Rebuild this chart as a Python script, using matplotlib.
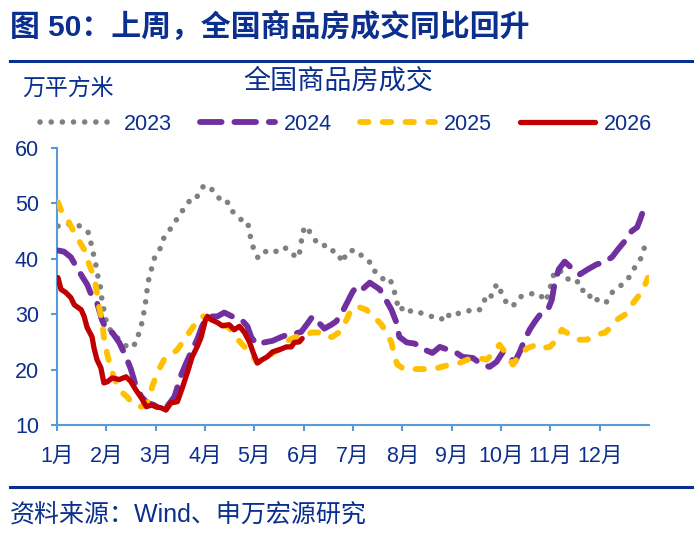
import matplotlib
matplotlib.use("Agg")
import matplotlib.pyplot as plt
from matplotlib.lines import Line2D

# ---------------- data (x = months since 1 Jan, y = 万平方米) ----------------
month_labels = ["1月", "2月", "3月", "4月", "5月", "6月", "7月", "8月", "9月", "10月", "11月", "12月"]
series_names = ["2023", "2024", "2025", "2026"]

x2023 = [0.02, 0.18, 0.39, 0.51, 0.63, 0.69, 0.79, 0.83, 0.89, 0.91, 0.95, 1.02, 1.16, 1.32, 1.46, 1.62,
         1.66, 1.73, 1.77, 1.81, 1.83, 1.87, 1.93, 1.99, 2.11, 2.17, 2.29, 2.38, 2.48, 2.60, 2.72, 2.82,
         2.94, 3.03, 3.11, 3.23, 3.31, 3.43, 3.51, 3.63, 3.74, 3.86, 3.90, 3.94, 4.02, 4.08, 4.20, 4.35,
         4.45, 4.59, 4.73, 4.85, 4.91, 4.95, 4.97, 5.06, 5.16, 5.30, 5.40, 5.54, 5.62, 5.69, 5.79, 5.87,
         5.99, 6.09, 6.23, 6.38, 6.46, 6.60, 6.74, 6.82, 6.88, 6.92, 7.09, 7.19, 7.33, 7.45, 7.59, 7.74,
         7.86, 7.98, 8.10, 8.28, 8.43, 8.57, 8.67, 8.77, 8.83, 8.93, 9.02, 9.12, 9.24, 9.36, 9.52, 9.64,
         9.77, 9.91, 9.97, 10.03, 10.09, 10.25, 10.38, 10.54, 10.62, 10.76, 10.84, 11.01, 11.13, 11.25,
         11.37, 11.51, 11.59, 11.70, 11.80, 11.88, 11.94]
y2023 = [45.9, 46.2, 46.4, 45.5, 44.8, 42.8, 38.8, 36.8, 34.5, 32.6, 30.8, 27.8, 26.3, 24.9, 23.8, 24.9,
         26.7, 28.7, 30.8, 33.0, 34.8, 36.8, 38.6, 40.6, 42.1, 43.9, 45.3, 46.4, 48.0, 49.3, 50.9, 50.9,
         52.9, 53.3, 52.9, 51.3, 50.8, 50.8, 48.9, 48.0, 47.0, 46.8, 45.0, 43.0, 41.0, 40.1, 41.2, 41.7,
         41.3, 42.1, 41.5, 40.1, 40.8, 42.8, 44.8, 45.9, 44.2, 42.6, 42.6, 41.3, 41.5, 41.0, 39.3, 41.2,
         41.5, 41.5, 39.9, 39.2, 37.4, 36.4, 36.6, 34.6, 32.8, 30.7, 31.4, 30.3, 30.3, 30.1, 29.6, 29.6,
         28.7, 30.3, 30.1, 30.3, 31.0, 30.8, 32.6, 32.3, 34.3, 35.5, 33.6, 31.9, 31.4, 33.0, 33.6, 33.7,
         33.7, 32.3, 33.9, 35.9, 37.9, 37.7, 36.1, 36.1, 34.3, 34.3, 32.3, 32.8, 32.1, 33.9,
         34.8, 35.7, 36.6, 38.3, 39.3, 41.2, 43.1]

x2024 = [0.02, 0.14, 0.28, 0.39, 0.51, 0.61, 0.71, 0.81, 0.91, 1.02, 1.12, 1.26, 1.40, 1.50, 1.58, 1.71,
         1.83, 1.97, 2.11, 2.21, 2.38, 2.52, 2.62, 2.74, 2.84, 2.94, 3.03, 3.09, 3.25, 3.39, 3.55, 3.74,
         3.86, 3.94, 4.06, 4.20, 4.37, 4.55, 4.67, 4.81, 4.95, 5.06, 5.18, 5.28, 5.42, 5.56, 5.66, 5.79,
         5.91, 5.99, 6.07, 6.19, 6.34, 6.54, 6.64, 6.78, 6.88, 6.94, 7.09, 7.25, 7.45, 7.61, 7.76, 7.92,
         8.10, 8.22, 8.43, 8.61, 8.77, 8.91, 9.04, 9.14, 9.28, 9.38, 9.48, 9.58, 9.69, 9.79, 9.95, 10.03,
         10.09, 10.17, 10.29, 10.46, 10.60, 10.76, 10.94, 11.07, 11.25, 11.37, 11.51, 11.65, 11.76, 11.82, 11.88]
y2024 = [41.5, 41.3, 40.3, 38.6, 36.8, 35.4, 33.2, 32.1, 29.0, 26.8, 26.7, 24.9, 22.3, 20.0, 17.6, 15.1,
         14.0, 13.6, 12.7, 13.1, 15.1, 19.1, 21.2, 23.6, 25.4, 27.8, 29.4, 29.6, 29.6, 30.3, 29.6, 29.0,
         27.8, 25.8, 24.5, 24.9, 25.2, 25.9, 26.3, 26.5, 26.8, 28.1, 29.6, 28.7, 27.4, 28.1, 28.7, 30.5,
         32.6, 34.0, 35.0, 34.5, 35.7, 34.5, 33.0, 30.8, 28.5, 25.9, 24.9, 24.7, 23.6, 23.0, 24.1, 23.6,
         23.0, 22.3, 22.1, 20.9, 20.5, 21.4, 23.2, 22.3, 21.4, 23.2, 25.4, 27.2, 28.7, 29.9, 30.8, 32.6,
         35.7, 38.1, 39.5, 38.1, 37.2, 38.1, 39.0, 39.3, 40.3, 41.7, 43.2, 45.0, 45.7, 47.1, 48.6]

x2025 = [0.02, 0.10, 0.24, 0.35, 0.45, 0.55, 0.65, 0.75, 0.81, 0.85, 0.91, 0.95, 1.02, 1.10, 1.20, 1.30,
         1.42, 1.56, 1.71, 1.83, 1.93, 2.03, 2.17, 2.31, 2.44, 2.58, 2.68, 2.82, 2.92, 3.03, 3.19, 3.35,
         3.49, 3.63, 3.76, 3.90, 4.06, 4.24, 4.41, 4.57, 4.71, 4.85, 4.97, 5.16, 5.32, 5.46, 5.58, 5.73,
         5.87, 5.97, 6.09, 6.27, 6.44, 6.58, 6.70, 6.78, 6.84, 6.90, 7.05, 7.21, 7.41, 7.59, 7.80, 7.96,
         8.16, 8.32, 8.53, 8.71, 8.87, 8.97, 9.12, 9.24, 9.38, 9.54, 9.73, 9.85, 9.99, 10.13, 10.23, 10.40,
         10.56, 10.74, 10.94, 11.11, 11.25, 11.35, 11.51, 11.65, 11.78, 11.88, 11.98]
y2025 = [50.2, 48.4, 46.6, 44.8, 43.2, 41.7, 39.0, 36.8, 33.9, 31.4, 29.0, 25.9, 22.7, 20.0, 17.6, 16.0,
         15.1, 13.6, 13.3, 14.0, 16.9, 19.4, 21.8, 22.7, 23.6, 25.4, 26.7, 28.5, 29.6, 29.6, 28.5, 28.1,
         27.6, 25.8, 24.5, 23.2, 21.2, 22.1, 23.2, 23.9, 25.4, 25.9, 25.9, 26.7, 26.7, 25.8, 25.9, 26.8,
         29.0, 31.0, 31.4, 30.8, 29.4, 28.1, 26.3, 24.9, 22.3, 20.9, 20.0, 20.1, 20.1, 20.0, 20.5, 20.9,
         21.2, 21.8, 22.1, 21.8, 23.2, 24.5, 22.7, 20.9, 22.7, 23.9, 24.5, 23.9, 24.1, 25.4, 27.2, 26.3,
         25.4, 25.4, 26.3, 26.7, 27.8, 29.0, 29.9, 31.7, 33.2, 34.5, 36.6]

x2026 = [0.02, 0.08, 0.18, 0.28, 0.35, 0.49, 0.55, 0.61, 0.71, 0.75, 0.81, 0.89, 0.95, 1.02, 1.12, 1.26,
         1.40, 1.50, 1.60, 1.71, 1.81, 1.91, 2.01, 2.11, 2.21, 2.31, 2.44, 2.54, 2.64, 2.74, 2.84, 2.92,
         3.01, 3.05, 3.13, 3.25, 3.35, 3.49, 3.59, 3.70, 3.80, 3.90, 3.98, 4.06, 4.16, 4.26, 4.37, 4.51,
         4.65, 4.75, 4.81, 4.91, 4.97]
y2026 = [36.6, 34.5, 33.9, 33.0, 31.7, 30.8, 29.6, 27.6, 25.9, 23.9, 21.8, 20.3, 17.6, 17.8, 18.5, 18.2,
         18.7, 17.8, 16.3, 14.9, 13.3, 13.6, 13.3, 13.1, 12.7, 14.0, 14.2, 16.7, 19.4, 22.3, 24.1, 25.8,
         29.0, 29.6, 29.0, 28.5, 27.9, 28.1, 27.2, 27.8, 26.7, 25.0, 23.0, 21.2, 21.8, 22.3, 23.2, 23.6,
         24.1, 24.1, 24.9, 25.0, 25.6]

y_ticks = [10, 20, 30, 40, 50, 60]

# ---------------- style ----------------
NAVY = "#0B2F8E"
AXIS_BLUE = "#5B9BD5"
FONT = ["Liberation Sans", "Noto Sans CJK SC", "DejaVu Sans"]
plt.rcParams["font.family"] = FONT

W, H = 700, 541
fig = plt.figure(figsize=(W / 100, H / 100), dpi=100)

def fx(px):
    return px / W

def fy(py):
    return 1 - py / H

ax = fig.add_axes([fx(57), fy(425), fx(649) - fx(57), fy(148) - fy(425)])

ax.plot(x2023, y2023, color="#808080", lw=4, linestyle=(0, (0.01, 2.0)),
        dash_capstyle="round", solid_capstyle="round", label=series_names[0], zorder=2)
ax.plot(x2024, y2024, color="#7030A0", lw=4.2, linestyle=(0, (3.7, 2.2)),
        dash_capstyle="round", label=series_names[1], zorder=3)
ax.plot(x2025, y2025, color="#FFC000", lw=4.2, linestyle=(0, (1.45, 2.45)),
        dash_capstyle="round", label=series_names[2], zorder=4)
ax.plot(x2026, y2026, color="#C00000", lw=3.8, solid_capstyle="round",
        solid_joinstyle="round", label=series_names[3], zorder=5)

ax.set_xlim(0, 12)
ax.set_ylim(10, 60)
ax.set_yticks(y_ticks)
ax.set_xticks(range(12))
ax.set_xticklabels(month_labels)

for side in ("top", "right"):
    ax.spines[side].set_visible(False)
for side in ("left", "bottom"):
    ax.spines[side].set_color(AXIS_BLUE)
    ax.spines[side].set_linewidth(1.5)
ax.tick_params(axis="both", direction="out", color=AXIS_BLUE, width=1.5, length=4,
               labelcolor=NAVY, labelsize=15.5)
ax.tick_params(axis="y", pad=9)
ax.tick_params(axis="x", pad=11)
for lbl in ax.get_xticklabels():
    lbl.set_x(lbl.get_position()[0])
ax.patch.set_alpha(0)

# legend
leg = fig.legend(loc="center", bbox_to_anchor=(fx(346), fy(124)), ncol=4, frameon=False,
                 handlelength=3.5, handletextpad=0.4, columnspacing=1.3,
                 prop={"family": FONT, "size": 15.5})
for t in leg.get_texts():
    t.set_color(NAVY)

# texts
fig.text(fx(10), fy(27), "图 50：上周，全国商品房成交同比回升", fontsize=21.5, fontweight="bold",
         color=NAVY, ha="left", va="center", family=FONT)
fig.add_artist(Line2D([fx(10), fx(692)], [fy(61), fy(61)], color=NAVY, lw=2.2))
fig.text(fx(22), fy(88), "万平方米", fontsize=16.5, color=NAVY, ha="left", va="center", family=FONT)
fig.text(fx(338), fy(82), "全国商品房成交", fontsize=19.5, color=NAVY, ha="center", va="center", family=FONT)
fig.add_artist(Line2D([fx(10), fx(692)], [fy(487), fy(487)], color=NAVY, lw=2.2))
fig.text(fx(10), fy(516), "资料来源：Wind、申万宏源研究", fontsize=18, color=NAVY,
         ha="left", va="center", family=FONT)

fig.savefig("out.png", dpi=100)
